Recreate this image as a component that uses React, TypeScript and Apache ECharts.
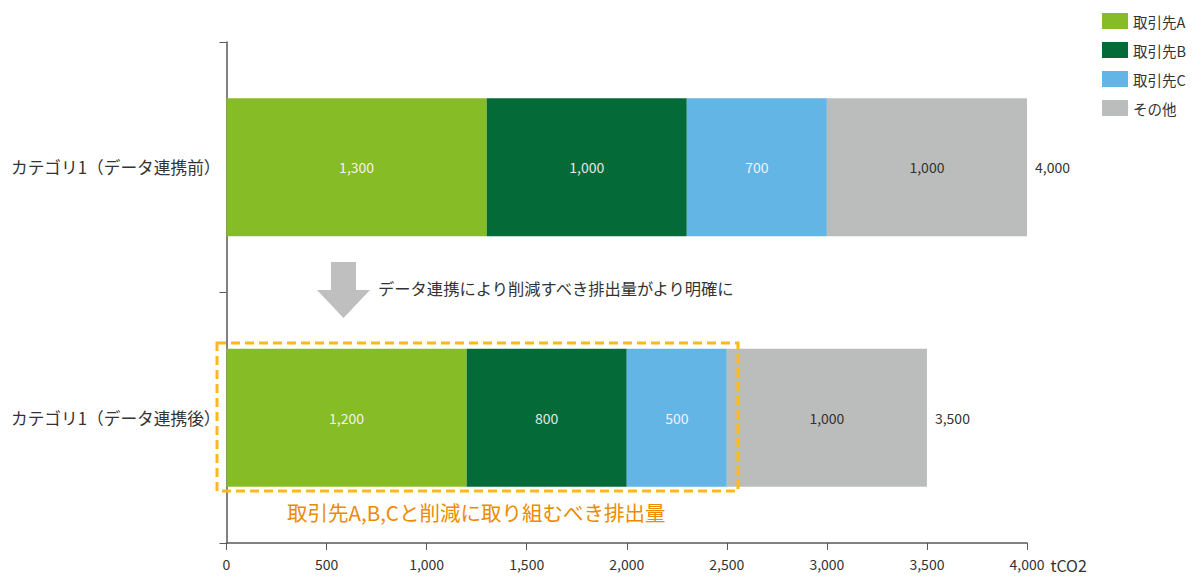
import React, { useEffect, useRef } from "react";
import * as echarts from "echarts";

const categories = ["カテゴリ1（データ連携前）", "カテゴリ1（データ連携後）"];
const seriesNames = ["取引先A", "取引先B", "取引先C", "その他"];
const valuesA = [1300, 1200];
const valuesB = [1000, 800];
const valuesC = [700, 500];
const valuesOther = [1000, 1000];
const totals = [4000, 3500];
const colors = ["#86BC25", "#046A38", "#62B5E5", "#BBBCBC"];
const labelColors = ["#F2F2F2", "#E6E6E6", "#F2F2F2", "#333333"];

const font = "'Noto Sans CJK JP', 'Noto Sans', sans-serif";
const fmt = (v: number) => v.toLocaleString("en-US");

// the div sits 8px in from the page edges (body margin)
const O = 8;

export default function App() {
  const ref = useRef<HTMLDivElement>(null);
  useEffect(() => {
    if (!ref.current) return;
    const chart = echarts.init(ref.current, undefined, { renderer: "svg" });
    const data = [valuesA, valuesB, valuesC, valuesOther];
    const series: any[] = data.map((vals, i) => ({
      name: seriesNames[i],
      type: "bar",
      stack: "total",
      barWidth: 138,
      data: vals,
      itemStyle: { color: colors[i] },
      label: {
        show: true,
        position: "inside",
        color: labelColors[i],
        fontSize: 14,
        fontFamily: font,
        formatter: (p: any) => fmt(p.value),
      },
    }));
    series.push({
      name: "total",
      type: "bar",
      stack: "total",
      barWidth: 138,
      data: totals.map(() => 0),
      itemStyle: { color: "transparent" },
      label: {
        show: true,
        position: "right",
        distance: 8,
        color: "#333",
        fontSize: 14,
        fontFamily: font,
        formatter: (p: any) => fmt(totals[p.dataIndex]),
      },
      tooltip: { show: false },
    });
    chart.setOption({
      animation: false,
      textStyle: { fontFamily: font },
      legend: {
        data: seriesNames,
        orient: "vertical",
        left: 1097 - O,
        top: 0,
        itemWidth: 26,
        itemHeight: 16,
        itemGap: 13,
        icon: "rect",
        textStyle: { fontSize: 14.5, color: "#333", fontFamily: font },
      },
      grid: { left: 226 - O, right: 1195 - 1027, top: 42 - O, bottom: 578 - 543, containLabel: false },
      xAxis: {
        type: "value",
        min: 0,
        max: 4000,
        interval: 500,
        name: "tCO2",
        nameLocation: "end",
        nameGap: 16,
        nameTextStyle: { fontSize: 16, color: "#333", verticalAlign: "top", padding: [14, 0, 0, 0] },
        axisLine: { show: true, lineStyle: { color: "#595959", width: 1.5 } },
        axisTick: { show: true, length: 7, lineStyle: { color: "#595959" } },
        axisLabel: { fontSize: 14, color: "#333", margin: 14, formatter: (v: number) => fmt(v) },
        splitLine: { show: false },
      },
      yAxis: {
        type: "category",
        data: categories,
        inverse: true,
        axisLine: { show: true, lineStyle: { color: "#595959", width: 1.5 } },
        axisTick: { show: true, length: 7, lineStyle: { color: "#595959" } },
        axisLabel: { fontSize: 16.7, color: "#333", margin: 6 },
      },
      series,
      graphic: [
        {
          type: "polygon",
          shape: {
            points: [
              [331 - O, 262 - O], [356 - O, 262 - O], [356 - O, 290 - O], [370 - O, 290 - O],
              [343.5 - O, 318 - O], [317 - O, 290 - O], [331 - O, 290 - O],
            ],
          },
          style: { fill: "#BFBFBF" },
        },
        {
          type: "text",
          left: 378 - O,
          top: 280 - O,
          style: {
            text: "データ連携により削減すべき排出量がより明確に",
            fontSize: 16.3,
            fill: "#333",
            fontFamily: font,
          },
        },
        {
          type: "rect",
          shape: { x: 217 - O, y: 343 - O, width: 521, height: 148 },
          style: { fill: "none", stroke: "#FFB81C", lineWidth: 3, lineDash: [9, 5] },
          z: 100,
        },
        {
          type: "text",
          left: 287 - O,
          top: 502 - O,
          style: {
            text: "取引先A,B,Cと削減に取り組むべき排出量",
            fontSize: 20.5,
            fill: "#ED8B00",
            fontFamily: font,
          },
        },
      ],
    });
    return () => chart.dispose();
  }, []);
  return <div ref={ref} style={{ width: 1187, height: 570 }} />;
}
